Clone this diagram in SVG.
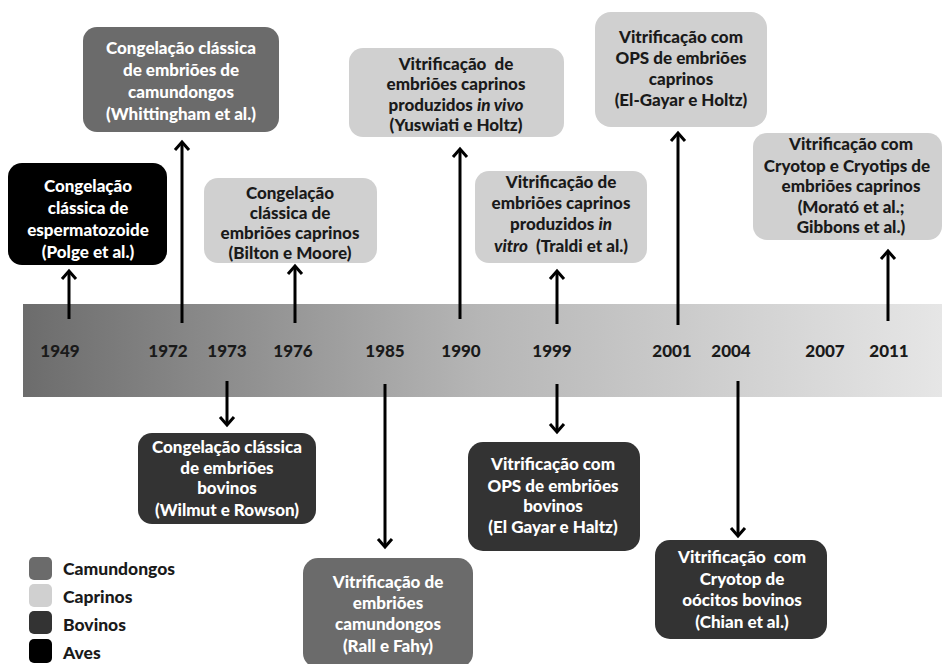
<svg xmlns="http://www.w3.org/2000/svg" width="942" height="664" viewBox="0 0 942 664">
<defs>
<linearGradient id="barGrad" x1="0" y1="0" x2="1" y2="0">
<stop offset="0" stop-color="#6c6c6c"/>
<stop offset="0.5" stop-color="#b6b6b6"/>
<stop offset="1" stop-color="#e6e6e6"/>
</linearGradient>
<marker id="head" markerUnits="userSpaceOnUse" markerWidth="20" markerHeight="20" viewBox="-10 -10 20 20" refX="0" refY="0" orient="auto">
<path d="M-8,-7 L0,0 L-8,7" fill="none" stroke="#000" stroke-width="3"/>
</marker>
</defs>
<style>
text{font-family:Lato,"Open Sans","Liberation Sans",sans-serif;font-weight:900;font-size:17px;text-anchor:middle;white-space:pre}
.cam{fill:#6b6b6b}
.cap{fill:#d0d0d0}
.bov{fill:#333333}
.ave{fill:#000000}
.lt{fill:#ffffff}
.dk{fill:#1a1a1a}
.yr{font-size:17px;fill:#1a1a1a}
.lg{font-size:17.5px;text-anchor:start;fill:#1a1a1a}
.arr{stroke:#000;stroke-width:3;fill:none;marker-end:url(#head)}
.it{font-style:italic}
</style>
<rect width="942" height="664" fill="#ffffff"/>

<g id="timeline">
<rect x="23" y="304" width="919" height="93" fill="url(#barGrad)"/>
<text class="yr" x="60" y="357">1949</text>
<text class="yr" x="168" y="357">1972</text>
<text class="yr" x="227" y="357">1973</text>
<text class="yr" x="293" y="357">1976</text>
<text class="yr" x="385" y="357">1985</text>
<text class="yr" x="461" y="357">1990</text>
<text class="yr" x="552" y="357">1999</text>
<text class="yr" x="672" y="357">2001</text>
<text class="yr" x="731" y="357">2004</text>
<text class="yr" x="825" y="357">2007</text>
<text class="yr" x="889" y="357">2011</text>
</g>

<g id="connectors">
<line class="arr" x1="69" y1="319" x2="69" y2="271"/>
<line class="arr" x1="182" y1="323" x2="182" y2="142"/>
<line class="arr" x1="295" y1="323" x2="295" y2="266"/>
<line class="arr" x1="460" y1="319" x2="460" y2="149"/>
<line class="arr" x1="557" y1="324" x2="557" y2="271"/>
<line class="arr" x1="678" y1="325" x2="678" y2="133"/>
<line class="arr" x1="888" y1="321" x2="888" y2="251"/>
<line class="arr" x1="227" y1="381" x2="227" y2="425"/>
<line class="arr" x1="385" y1="384" x2="385" y2="547"/>
<line class="arr" x1="557" y1="384" x2="557" y2="432"/>
<line class="arr" x1="738" y1="381" x2="738" y2="536"/>
</g>

<g id="polge">
<rect class="ave" x="8" y="163" width="159" height="102" rx="14"/>
<text class="lt" x="88" y="192">Congelação</text>
<text class="lt" x="88" y="214">clássica de</text>
<text class="lt" x="88" y="236">espermatozoide</text>
<text class="lt" x="88" y="258">(Polge et al.)</text>
</g>

<g id="whittingham">
<rect class="cam" x="83" y="27" width="196" height="105" rx="14"/>
<text class="lt" x="181" y="54">Congelação clássica</text>
<text class="lt" x="181" y="76">de embriões de</text>
<text class="lt" x="181" y="98">camundongos</text>
<text class="lt" x="181" y="120">(Whittingham et al.)</text>
</g>

<g id="bilton">
<rect class="cap" x="204" y="178" width="173" height="85" rx="14"/>
<text class="dk" x="290" y="199">Congelação</text>
<text class="dk" x="290" y="219">clássica de</text>
<text class="dk" x="290" y="239">embriões caprinos</text>
<text class="dk" x="290" y="259">(Bilton e Moore)</text>
</g>

<g id="yuswiati">
<rect class="cap" x="349" y="48" width="215" height="89" rx="14"/>
<text class="dk" x="456" y="70">Vitrificação  de</text>
<text class="dk" x="456" y="90">embriões caprinos</text>
<text class="dk" x="456" y="111">produzidos <tspan class="it">in vivo</tspan></text>
<text class="dk" x="456" y="131">(Yuswiati e Holtz)</text>
</g>

<g id="traldi">
<rect class="cap" x="475" y="171" width="172" height="92" rx="14"/>
<text class="dk" x="561" y="188">Vitrificação de</text>
<text class="dk" x="561" y="209">embriões caprinos</text>
<text class="dk" x="561" y="230">produzidos <tspan class="it">in</tspan></text>
<text class="dk" x="561" y="252"><tspan class="it">vitro</tspan>  (Traldi et al.)</text>
</g>

<g id="elgayar-caprinos">
<rect class="cap" x="595" y="12" width="172" height="115" rx="16"/>
<text class="dk" x="681" y="43">Vitrificação com</text>
<text class="dk" x="681" y="64">OPS de embriões</text>
<text class="dk" x="681" y="85">caprinos</text>
<text class="dk" x="681" y="106">(El-Gayar e Holtz)</text>
</g>

<g id="morato">
<rect class="cap" x="753" y="133" width="189" height="107" rx="14"/>
<text class="dk" x="851" y="150">Vitrificação com</text>
<text class="dk" x="847" y="172">Cryotop e Cryotips de</text>
<text class="dk" x="851" y="192">embriões caprinos</text>
<text class="dk" x="851" y="213">(Morató et al.;</text>
<text class="dk" x="851" y="233">Gibbons et al.)</text>
</g>

<g id="wilmut">
<rect class="bov" x="138" y="433" width="178" height="91" rx="14"/>
<text class="lt" x="227" y="453">Congelação clássica</text>
<text class="lt" x="227" y="474">de embriões</text>
<text class="lt" x="227" y="494">bovinos</text>
<text class="lt" x="227" y="516">(Wilmut e Rowson)</text>
</g>

<g id="rall">
<rect class="cam" x="303" y="558" width="170" height="110" rx="15"/>
<text class="lt" x="388" y="588">Vitrificação de</text>
<text class="lt" x="388" y="609">embriões</text>
<text class="lt" x="388" y="630">camundongos</text>
<text class="lt" x="388" y="652">(Rall e Fahy)</text>
</g>

<g id="elgayar-bovinos">
<rect class="bov" x="468" y="442" width="172" height="109" rx="15"/>
<text class="lt" x="553" y="470">Vitrificação com</text>
<text class="lt" x="553" y="492">OPS de embriões</text>
<text class="lt" x="553" y="512">bovinos</text>
<text class="lt" x="553" y="533">(El Gayar e Haltz)</text>
</g>

<g id="chian">
<rect class="bov" x="655" y="540" width="172" height="99" rx="15"/>
<text class="lt" x="742" y="563">Vitrificação  com</text>
<text class="lt" x="742" y="585">Cryotop de</text>
<text class="lt" x="742" y="606">oócitos bovinos</text>
<text class="lt" x="742" y="628">(Chian et al.)</text>
</g>

<g id="legend">
<rect class="cam" x="29" y="557" width="23" height="23" rx="5"/>
<rect class="cap" x="29" y="584" width="23" height="23" rx="5"/>
<rect class="bov" x="29" y="611" width="23" height="23" rx="5"/>
<rect class="ave" x="29" y="639" width="23" height="24" rx="5"/>
<text class="lg" x="63" y="575">Camundongos</text>
<text class="lg" x="63" y="603">Caprinos</text>
<text class="lg" x="63" y="631">Bovinos</text>
<text class="lg" x="63" y="659">Aves</text>
</g>
</svg>
